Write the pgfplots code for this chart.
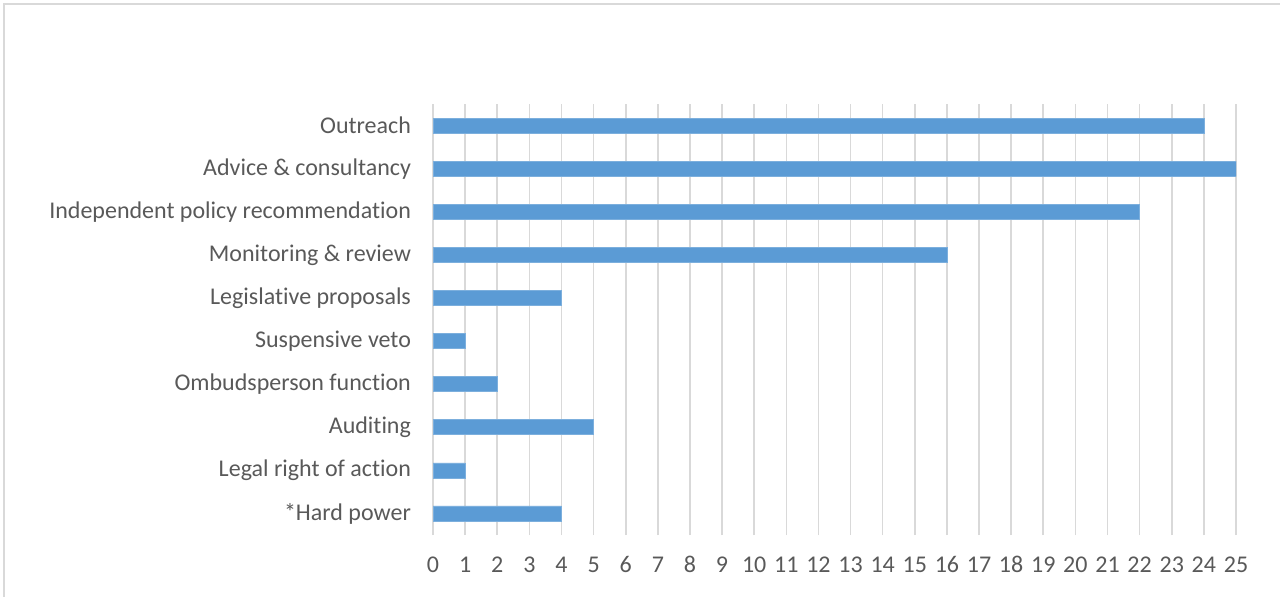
\documentclass[border=0pt]{standalone}
\usepackage{pgfplots}
\pgfplotsset{compat=1.18}
\usepackage{fontspec}
\setmainfont{Carlito}[RawFeature={-liga;-dlig;-clig}]
\definecolor{barblue}{HTML}{5B9BD5}
\definecolor{gridgray}{HTML}{D9D9D9}
\definecolor{txtgray}{HTML}{595959}
\begin{document}
\begin{tikzpicture}
\useasboundingbox (0,0) rectangle (640pt,298pt);
\draw[gridgray, line width=0.8pt] (2pt,-2pt) -- (2pt,296pt) -- (642pt,296pt);
\begin{axis}[
  at={(216.5pt,30.5pt)}, anchor=south west,
  scale only axis,
  width=401.5pt, height=215.5pt,
  xbar, bar width=7.5pt,
  xmin=0, xmax=25,
  ymin=-0.5, ymax=9.5,
  xtick={0,1,...,25},
  ytick={0,...,9},
  yticklabels={*Hard power, Legal right of action, Auditing, Ombudsperson function, Suspensive veto, Legislative proposals, Monitoring \& review, Independent policy recommendation, Advice \& consultancy, Outreach},
  axis line style={draw=none},
  major tick length=0pt,
  xmajorgrids, grid style={gridgray, line width=0.8pt},
  tick label style={font=\fontsize{12}{14}\selectfont, text=txtgray},
  /pgf/number format/assume math mode=true,
  xticklabel style={yshift=-6.5pt, text height=8.5pt, text depth=0pt},
  yticklabel style={xshift=-7.5pt},
]
\addplot[fill=barblue, draw=barblue!80!white, line width=0.3pt] coordinates {
  (4,0) (1,1) (5,2) (2,3) (1,4) (4,5) (16,6) (22,7) (25,8) (24,9)
};
\end{axis}
\end{tikzpicture}
\end{document}
